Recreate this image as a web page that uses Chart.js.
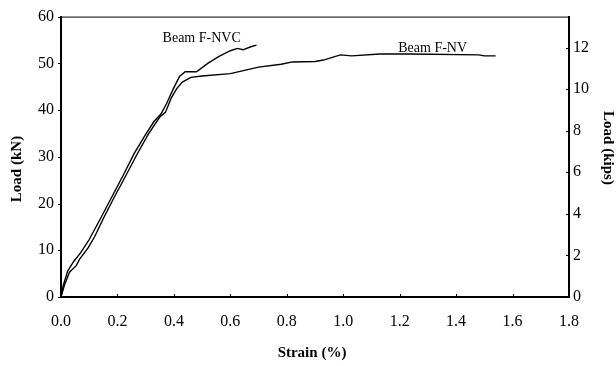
<!DOCTYPE html>
<html>
<head>
<meta charset="utf-8">
<script src="https://cdn.jsdelivr.net/npm/chart.js@4/dist/chart.umd.min.js"></script>
<style>
  html, body { margin: 0; padding: 0; background: #fff; }
  #wrap { width: 616px; height: 366px; }
</style>
</head>
<body>
<div id="wrap"><canvas id="loadStrain" width="616" height="366"></canvas></div>
<script>
// Beam F-NVC: strain (%) vs load (kN)
const nvcStrain = [0, 0.008, 0.024, 0.045, 0.07, 0.10, 0.14, 0.18, 0.22, 0.26, 0.30, 0.33, 0.355, 0.375, 0.40, 0.42, 0.44, 0.48, 0.52, 0.56, 0.60, 0.625, 0.645, 0.67, 0.693];
const nvcLoad   = [0, 2.5, 5.6, 7.6, 9.5, 12.3, 16.8, 21.4, 26.0, 30.8, 34.8, 37.6, 39.2, 41.5, 44.8, 47.2, 48.2, 48.2, 50.0, 51.5, 52.7, 53.2, 52.9, 53.5, 53.9];

// Beam F-NV
const nvStrain = [0, 0.012, 0.03, 0.054, 0.066, 0.096, 0.12, 0.15, 0.19, 0.23, 0.27, 0.31, 0.35, 0.37, 0.39, 0.41, 0.43, 0.46, 0.50, 0.60, 0.65, 0.70, 0.78, 0.82, 0.90, 0.93, 0.99, 1.03, 1.13, 1.24, 1.48, 1.50, 1.54];
const nvLoad   = [0, 2.5, 5.3, 6.7, 8.1, 10.5, 13.0, 16.8, 21.5, 26.0, 30.6, 34.9, 38.5, 39.5, 42.5, 44.6, 46.0, 47.0, 47.3, 47.8, 48.5, 49.2, 49.8, 50.3, 50.4, 50.7, 51.8, 51.6, 52.0, 52.0, 51.8, 51.6, 51.6];

// curve labels, placed in data units (left edge, vertical centre)
const seriesNames = ['Beam F-NVC', 'Beam F-NV'];
const labelStrain = [0.36, 1.195];
const labelLoad   = [55.4, 53.3];

// axes
const strainTicks = [0, 0.2, 0.4, 0.6, 0.8, 1.0, 1.2, 1.4, 1.6, 1.8];
const kipTicks = [0, 2, 4, 6, 8, 10, 12];
const kNMax = 60;
const KN_PER_KIP = 4.448222;

const serif = '"Liberation Serif", "Times New Roman", serif';

function toPoints(xs, ys) {
    return xs.map((x, i) => ({ x: x, y: ys[i] }));
}

// frame, inward ticks, axis titles and curve labels
const decorations = {
    id: 'decorations',
    afterDraw(chart) {
        const { ctx, chartArea: a, scales } = chart;
        ctx.save();
        ctx.strokeStyle = '#000';
        ctx.fillStyle = '#000';

        // thin top edge of the box
        ctx.lineWidth = 1;
        ctx.beginPath();
        ctx.moveTo(a.left, a.top + 0.5);
        ctx.lineTo(a.right, a.top + 0.5);
        ctx.stroke();

        ctx.beginPath();
        scales.x.ticks.forEach(t => {
            const px = Math.round(scales.x.getPixelForValue(t.value)) + 0.5;
            ctx.moveTo(px, a.bottom);
            ctx.lineTo(px, a.bottom - 3);
        });
        scales.y.ticks.forEach(t => {
            const py = Math.round(scales.y.getPixelForValue(t.value)) + 0.5;
            ctx.moveTo(a.left - 3, py);
            ctx.lineTo(a.left, py);
        });
        scales.y2.ticks.forEach(t => {
            const py = Math.round(scales.y2.getPixelForValue(t.value)) + 0.5;
            ctx.moveTo(a.right - 3, py);
            ctx.lineTo(a.right, py);
        });
        ctx.stroke();

        // axis titles
        ctx.font = 'bold 15px ' + serif;
        ctx.textAlign = 'center';
        ctx.textBaseline = 'middle';
        ctx.fillText('Strain (%)', 312, 353);

        ctx.save();
        ctx.translate(17, 169);
        ctx.rotate(-Math.PI / 2);
        ctx.fillText('Load (kN)', 0, 0);
        ctx.restore();

        ctx.save();
        ctx.translate(608, 148);
        ctx.rotate(Math.PI / 2);
        ctx.fillText('Load (kips)', 0, 0);
        ctx.restore();

        // curve labels
        ctx.font = '14px ' + serif;
        ctx.textAlign = 'left';
        seriesNames.forEach((name, i) => {
            ctx.fillText(name, scales.x.getPixelForValue(labelStrain[i]), scales.y.getPixelForValue(labelLoad[i]));
        });
        ctx.restore();
    }
};

const lineStyle = {
    borderColor: '#000',
    borderWidth: 1.4,
    pointRadius: 0,
    fill: false,
    tension: 0
};

new Chart(document.getElementById('loadStrain'), {
    type: 'line',
    data: {
        datasets: [
            Object.assign({ label: seriesNames[0], data: toPoints(nvcStrain, nvcLoad) }, lineStyle),
            Object.assign({ label: seriesNames[1], data: toPoints(nvStrain, nvLoad) }, lineStyle)
        ]
    },
    options: {
        responsive: false,
        animation: false,
        events: [],
        layout: { padding: { top: 10, left: 0, right: 0, bottom: 0 } },
        plugins: { legend: { display: false }, tooltip: { enabled: false } },
        scales: {
            x: {
                type: 'linear',
                min: 0,
                max: 1.8,
                afterBuildTicks: s => { s.ticks = strainTicks.map(v => ({ value: v })); },
                afterFit: s => { s.height = 69; },
                grid: { display: false, drawTicks: false },
                border: { display: true, color: '#000', width: 2 },
                ticks: {
                    color: '#000',
                    font: { family: serif, size: 16 },
                    padding: 15,
                    maxRotation: 0,
                    callback: v => v.toFixed(1)
                }
            },
            y: {
                type: 'linear',
                position: 'left',
                min: 0,
                max: kNMax,
                afterFit: s => { s.width = 61; },
                grid: { display: false, drawTicks: false },
                border: { display: true, color: '#000', width: 2 },
                ticks: {
                    stepSize: 10,
                    color: '#000',
                    font: { family: serif, size: 16 },
                    padding: 7
                }
            },
            y2: {
                type: 'linear',
                position: 'right',
                min: 0,
                max: kNMax / KN_PER_KIP,
                afterBuildTicks: s => { s.ticks = kipTicks.map(v => ({ value: v })); },
                afterFit: s => { s.width = 47; },
                grid: { display: false, drawTicks: false },
                border: { display: true, color: '#000', width: 2 },
                ticks: {
                    color: '#000',
                    font: { family: serif, size: 16 },
                    padding: 4
                }
            }
        }
    },
    plugins: [decorations]
});
</script>
</body>
</html>
